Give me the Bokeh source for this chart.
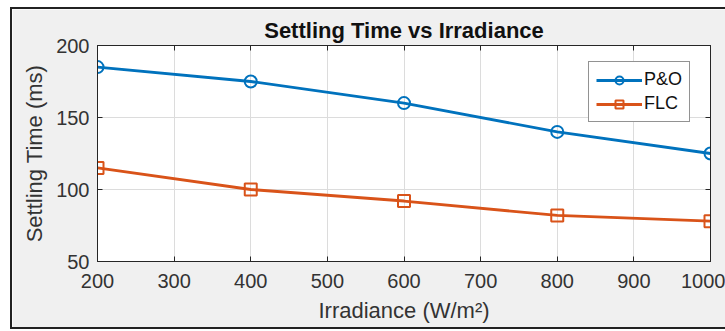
from bokeh.plotting import figure
from bokeh.embed import file_html
from bokeh.resources import INLINE
from bokeh.models import LinearAxis, FixedTicker, Legend, LegendItem, Range1d, AllLabels

irradiance = [200, 400, 600, 800, 1000]
po_time = [185, 175, 160, 140, 125]
flc_time = [115, 100, 92, 82, 78]
x_ticks = [200, 300, 400, 500, 600, 700, 800, 900, 1000]
y_ticks = [50, 100, 150, 200]

BLUE = "#0072BD"
ORANGE = "#D95319"
FONT = "Liberation Sans"
TXT = "#262626"

p = figure(width=715, height=322, output_backend="svg", toolbar_location=None,
           x_range=Range1d(200, 1000), y_range=Range1d(50, 200),
           title="Settling Time vs Irradiance",
           min_border_left=85, min_border_right=17, min_border_top=36, min_border_bottom=70)
p.margin = (7, 0, 2, 10)
p.background_fill_color = "white"
p.border_fill_color = "#f0f0f0"
p.outline_line_color = "#262626"
p.outline_line_width = 1
p.styles = {"border-left": "2px solid #222", "border-top": "2px solid #222",
            "border-bottom": "2px solid #222", "box-sizing": "border-box"}

p.title.text_font = FONT
p.title.text_font_size = "22px"
p.title.text_font_style = "bold"
p.title.text_color = "#111111"
p.title.align = "center"
p.title.offset = 0
p.title.standoff = 5

for ax in (p.xaxis[0], p.yaxis[0]):
    ax.major_tick_in = 5
    ax.major_tick_out = 0
    ax.minor_tick_in = 0
    ax.minor_tick_out = 0
    ax.axis_line_color = TXT
    ax.major_tick_line_color = TXT
    ax.major_label_text_font = FONT
    ax.major_label_text_font_size = "20px"
    ax.major_label_text_color = "#333333"
    ax.major_label_policy = AllLabels()
    ax.axis_label_text_font = FONT
    ax.axis_label_text_font_size = "22px"
    ax.axis_label_text_font_style = "normal"
    ax.axis_label_text_color = "#333333"

p.xaxis[0].ticker = FixedTicker(ticks=x_ticks)
p.yaxis[0].ticker = FixedTicker(ticks=y_ticks)
p.xaxis[0].axis_label = "Irradiance (W/m²)"
p.yaxis[0].axis_label = "Settling Time (ms)"
p.xaxis[0].major_label_standoff = 12
p.yaxis[0].major_label_standoff = 8
p.xaxis[0].axis_label_standoff = 7
p.yaxis[0].axis_label_standoff = 6

top = LinearAxis(ticker=FixedTicker(ticks=x_ticks),
                 major_label_overrides={t: "" for t in x_ticks},
                 major_tick_in=5, major_tick_out=0, minor_tick_in=0, minor_tick_out=0,
                 axis_line_color=TXT, major_tick_line_color=TXT)
right = LinearAxis(ticker=FixedTicker(ticks=y_ticks),
                   major_label_overrides={t: "" for t in y_ticks},
                   major_tick_in=5, major_tick_out=0, minor_tick_in=0, minor_tick_out=0,
                   axis_line_color=TXT, major_tick_line_color=TXT)
p.add_layout(top, "above")
p.add_layout(right, "right")

p.xgrid.ticker = FixedTicker(ticks=x_ticks)
p.ygrid.ticker = FixedTicker(ticks=y_ticks)
p.grid.grid_line_color = "#dcdcdc"
p.grid.grid_line_width = 1

l1 = p.line(irradiance, po_time, line_color=BLUE, line_width=2.8)
s1 = p.scatter(irradiance, po_time, marker="circle", size=12, line_color=BLUE,
               line_width=2, fill_color=None)
l2 = p.line(irradiance, flc_time, line_color=ORANGE, line_width=2.8)
s2 = p.scatter(irradiance, flc_time, marker="square", size=12, line_color=ORANGE,
               line_width=2, fill_color=None)

legend = Legend(items=[LegendItem(label="P&O", renderers=[l1, s1]),
                       LegendItem(label="FLC", renderers=[l2, s2])],
                location=(491, 139))
legend.label_text_font = FONT
legend.label_text_font_size = "18px"
legend.label_text_color = "#111111"
legend.glyph_width = 46
legend.glyph_height = 20
legend.spacing = 3
legend.padding = 7
legend.margin = 0
legend.label_standoff = 2
legend.border_line_color = "#262626"
legend.border_line_width = 1
legend.background_fill_color = "white"
legend.background_fill_alpha = 1
p.add_layout(legend, "center")

open("out.html", "w").write(file_html(p, INLINE))
